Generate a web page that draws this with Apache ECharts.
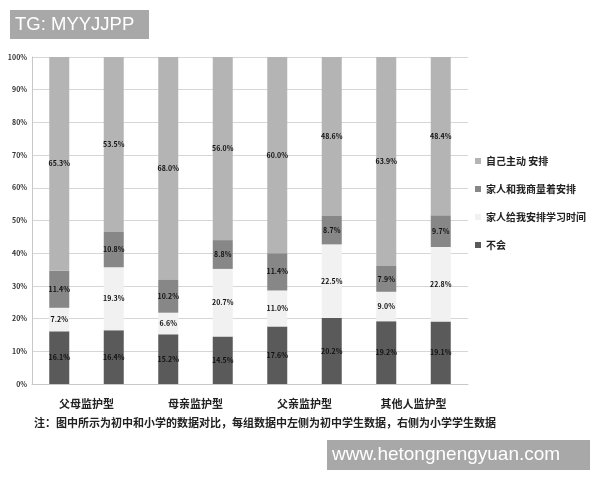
<!DOCTYPE html>
<html><head><meta charset="utf-8">
<script src="https://cdn.jsdelivr.net/npm/echarts@6/dist/echarts.min.js"></script>
<style>html,body{margin:0;padding:0;background:#fff}#c{width:600px;height:480px}</style>
</head><body><div id="c"></div>
<script>
var groups = ['父母监护型', '母亲监护型', '父亲监护型', '其他人监护型'];
var bars = ['父母-初中', '父母-小学', '母亲-初中', '母亲-小学', '父亲-初中', '父亲-小学', '其他-初中', '其他-小学'];
var seriesNames = ['不会', '家人给我安排学习时间', '家人和我商量着安排', '自己主动 安排'];
var buhui   = [16.1, 16.4, 15.2, 14.5, 17.6, 20.2, 19.2, 19.1];
var jiaren  = [7.2, 19.3, 6.6, 20.7, 11.0, 22.5, 9.0, 22.8];
var shangl  = [11.4, 10.8, 10.2, 8.8, 11.4, 8.7, 7.9, 9.7];
var zizhu   = [65.3, 53.5, 68.0, 56.0, 60.0, 48.6, 63.9, 48.4];
var yTicks = [0, 10, 20, 30, 40, 50, 60, 70, 80, 90, 100];
var footnote = '注：图中所示为初中和小学的数据对比，每组数据中左侧为初中学生数据，右侧为小学学生数据';
var colors = ['#5a5a5a', '#f1f1f1', '#878787', '#b4b4b4'];
var values = [buhui, jiaren, shangl, zizhu];

var chart = echarts.init(document.getElementById('c'));
var font = '"Noto Sans CJK SC", sans-serif';
var series = seriesNames.map(function (n, i) {
  return {
    name: n, type: 'bar', stack: 'total', barWidth: 20, xAxisIndex: 0,
    data: values[i],
    itemStyle: { color: colors[i] },
    label: { show: true, position: 'inside', fontSize: 7, fontWeight: 'bold', color: '#111',
      fontFamily: font, formatter: function (p) { return p.value.toFixed(1) + '%'; } }
  };
});
chart.setOption({
  animation: false,
  backgroundColor: '#fff',
  grid: { left: 32, right: 132, top: 57, bottom: 96 },
  xAxis: [
    { type: 'category', data: bars, axisLabel: { show: false }, axisTick: { show: false },
      axisLine: { lineStyle: { color: '#c8c8c8' } } },
    { type: 'category', data: groups, position: 'bottom', offset: 0, axisTick: { show: false },
      axisLine: { show: false },
      axisLabel: { margin: 14, fontSize: 11, fontWeight: 'bold', color: '#222', fontFamily: font } }
  ],
  yAxis: { type: 'value', min: 0, max: 100, interval: 10,
    axisLine: { show: true, lineStyle: { color: '#c8c8c8' } },
    axisTick: { show: false },
    splitLine: { lineStyle: { color: '#d6d6d6' } },
    axisLabel: { margin: 5, fontSize: 7, fontWeight: 'bold', color: '#333', fontFamily: font,
      formatter: function (v) { return yTicks.indexOf(v) >= 0 ? v + '%' : ''; } } },
  legend: { orient: 'vertical', left: 470, top: 150, itemGap: 16, itemWidth: 6, itemHeight: 6,
    icon: 'rect',
    data: ['自己主动 安排', '家人和我商量着安排', '家人给我安排学习时间', '不会'],
    textStyle: { fontSize: 10, fontWeight: 'bold', color: '#222', fontFamily: font, lineHeight: 12 } },
  graphic: [
    { type: 'rect', shape: { x: 10, y: 10, width: 139, height: 29 }, style: { fill: '#a8a8a8' } },
    { type: 'text', x: 15, y: 25, style: { text: 'TG: MYYJJPP', fill: '#fff', fontSize: 18.5,
      fontFamily: '"Liberation Sans", Arial, sans-serif', verticalAlign: 'middle' } },
    { type: 'text', x: 34, y: 423, style: { text: footnote, fill: '#222', fontSize: 11, fontWeight: 'bold',
      fontFamily: font, verticalAlign: 'middle' } },
    { type: 'rect', shape: { x: 327, y: 440, width: 263, height: 30 }, style: { fill: '#a8a8a8' } },
    { type: 'text', x: 332, y: 455, style: { text: 'www.hetongnengyuan.com', fill: '#fff', fontSize: 19,
      fontFamily: '"Liberation Sans", Arial, sans-serif', verticalAlign: 'middle' } }
  ],
  series: series
});
</script></body></html>
